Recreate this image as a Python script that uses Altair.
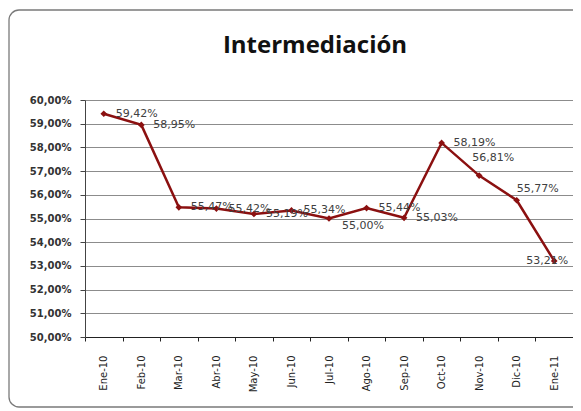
import altair as alt
import pandas as pd
import json

title_text = "Intermediación"
months = ["Ene-10", "Feb-10", "Mar-10", "Abr-10", "May-10", "Jun-10", "Jul-10",
          "Ago-10", "Sep-10", "Oct-10", "Nov-10", "Dic-10", "Ene-11"]
values = [59.42, 58.95, 55.47, 55.42, 55.19, 55.34, 55.00,
          55.44, 55.03, 58.19, 56.81, 55.77, 53.21]
y_ticks = [50, 51, 52, 53, 54, 55, 56, 57, 58, 59, 60]

df = pd.DataFrame({"mes": months, "valor": values})
df["etiqueta"] = [f"{v:.2f}".replace(".", ",") + "%" for v in values]

LINE = "#8b1010"
W, H = 488, 237

x_enc = alt.X(
    "mes:N", sort=months,
    scale=alt.Scale(type="band", paddingInner=0, paddingOuter=0),
    axis=alt.Axis(title=None, tickBand="extent", labelAngle=-90, labelAlign="right",
                  labelBaseline="middle", labelPadding=14, tickSize=4,
                  domainColor="#222", tickColor="#222", labelColor="#222",
                  labelFont="DejaVu Sans", labelFontSize=10, grid=False),
)
y_enc = alt.Y(
    "valor:Q", scale=alt.Scale(domain=[50, 60], nice=False, zero=False),
    axis=alt.Axis(title=None, values=y_ticks, tickCount=11, labelOverlap=False,
                  labelExpr="replace(format(datum.value, '.2f'), '.', ',') + '%'",
                  tickSize=5, labelPadding=9, grid=True, gridColor="#8c8c8c",
                  domainColor="#444", tickColor="#444", labelColor="#333",
                  labelFont="DejaVu Sans", labelFontSize=10, labelFontWeight="bold"),
)

base = alt.Chart(df)
line = base.mark_line(color=LINE, strokeWidth=2.5).encode(x=x_enc, y=y_enc)
points = base.mark_point(shape="diamond", filled=True, color=LINE, size=45, opacity=1).encode(
    x=x_enc, y=y_enc)

# label placement (Excel-like, right of point with a few adjustments)
offsets = {
    "Jul-10": (13, 7),
    "Nov-10": (-7, -18),
    "Dic-10": (0, -11),
    "Ene-11": (-28, 0),
}
special = list(offsets.keys())
label_layers = [
    base.transform_filter("indexof(" + json.dumps(special) + ", datum.mes) < 0")
    .mark_text(align="left", baseline="middle", dx=12, font="DejaVu Sans", fontSize=11, color="#404040")
    .encode(x=x_enc, y=y_enc, text="etiqueta:N")
]
for m, (dx, dy) in offsets.items():
    label_layers.append(
        base.transform_filter(alt.datum.mes == m)
        .mark_text(align="left", baseline="middle", dx=dx, dy=dy, font="DejaVu Sans",
                   fontSize=11, color="#404040")
        .encode(x=x_enc, y=y_enc, text="etiqueta:N")
    )

frame = alt.Chart(pd.DataFrame({"k": [0]})).mark_rect(
    fill="transparent", stroke="#7a7a7a", strokeWidth=1.3, cornerRadius=10
).encode(x=alt.value(-76), x2=alt.value(520), y=alt.value(-90), y2=alt.value(307))

title = alt.Chart(pd.DataFrame({"t": [title_text]})).mark_text(
    font="Open Sans", fontSize=24, fontWeight="bold", align="center",
    baseline="alphabetic", color="#111"
).encode(x=alt.value(230), y=alt.value(-47), text="t:N")

chart = alt.layer(line, points, *label_layers, frame, title).properties(
    width=W, height=H,
    autosize=alt.AutoSizeParams(type="none"),
    padding={"left": 77, "top": 92, "right": 0, "bottom": 74},
).configure_view(stroke="#8c8c8c", strokeWidth=1).configure(background="white")

chart.save("out.html", embed_options={"renderer": "svg", "actions": False})
